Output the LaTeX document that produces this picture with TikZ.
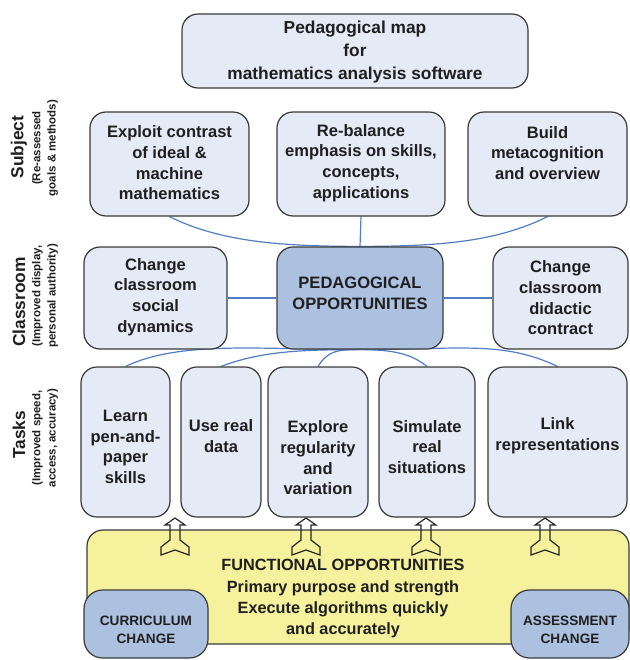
\documentclass[tikz,border=0pt]{standalone}
\usepackage{fontspec}
\setmainfont{Liberation Sans}
\usetikzlibrary{backgrounds}

\definecolor{boxfill}{RGB}{228,234,246}
\definecolor{hubfill}{RGB}{172,193,224}
\definecolor{funcfill}{RGB}{246,241,156}
\definecolor{spokeblue}{RGB}{80,125,196}
\definecolor{edgegray}{RGB}{58,58,58}

\tikzset{
  mapbox/.style={draw=edgegray, line width=0.9pt, fill=boxfill, rounded corners=12pt, inner sep=0pt},
  hubbox/.style={mapbox, fill=hubfill},
  maptext/.style={font=\bfseries\fontsize{12.4}{15.5}\selectfont, align=center, inner sep=0pt, text=black!88},
  tagtext/.style={font=\bfseries\fontsize{10.2}{13.2}\selectfont, align=center, inner sep=0pt, text=black!88},
  rowname/.style={font=\bfseries\fontsize{13}{15}\selectfont, rotate=90, inner sep=0pt, text=black!88},
  rownote/.style={font=\bfseries\fontsize{8.6}{11.5}\selectfont, rotate=90, align=center, inner sep=0pt, text=black!88},
  spoke/.style={draw=spokeblue, line width=0.9pt},
  % pics do not keep the flipped y axis, so y grows upwards here
  upfork/.pic={
    \draw[line width=0.9pt, draw=black!85] (0,0) -- (10,-7) -- (5,-7) -- (5,-22) -- (14,-29) -- (14,-37)
      -- (0,-32) -- (-14,-37) -- (-14,-29) -- (-5,-22) -- (-5,-7) -- (-10,-7) -- cycle;
  }
}

\begin{document}
\begin{tikzpicture}[x=0.75pt,y=0.75pt,yscale=-1,xscale=1]
\useasboundingbox (0,0) rectangle (630,660);

%Title box
\node[mapbox, minimum width=259.5pt, minimum height=55.5pt] (title) at (355,51) {};
\node[maptext, font=\bfseries\fontsize{13}{17.5}\selectfont] (title-t) at (355,52) {Pedagogical map\\for\\mathematics analysis software};

%Row labels
\node[rowname] (subj-l) at (19,147) {Subject};
\node[rownote] (subj-n) at (45,148) {(Re-assessed\\goals \& methods)};
\node[rowname] (class-l) at (19,302) {Classroom};
\node[rownote] (class-n) at (45,296) {(Improved display,\\personal authority)};
\node[rowname] (task-l) at (19,435) {Tasks};
\node[rownote] (task-n) at (45,438) {(Improved speed,\\access, accuracy)};

%Subject row
\node[mapbox, minimum width=119.25pt, minimum height=78pt] (sub1) at (169.5,164) {};
\node[mapbox, minimum width=126pt, minimum height=78pt] (sub2) at (361,164) {};
\node[mapbox, minimum width=119.25pt, minimum height=78pt] (sub3) at (547.5,164) {};
% Text Node
\node[maptext] (sub1-t) at (169.5,163) {Exploit contrast\\of ideal \&\\machine\\mathematics};
\node[maptext] (sub2-t) at (361,163) {Re-balance\\emphasis on skills,\\concepts,\\applications};
\node[maptext] (sub3-t) at (547.5,153) {Build\\metacognition\\and overview};

%Classroom row
\node[mapbox, minimum width=107.25pt, minimum height=76.5pt] (cls1) at (155.5,298) {};
\node[hubbox, minimum width=124.5pt, minimum height=76.5pt] (hub) at (360,298) {};
\node[mapbox, minimum width=101.25pt, minimum height=76.5pt] (cls2) at (560.5,298) {};
% Text Node
\node[maptext] (cls1-t) at (155.5,297) {Change\\classroom\\social\\dynamics};
\node[maptext] (hub-t) at (360,293) {PEDAGOGICAL\\OPPORTUNITIES};
\node[maptext] (cls2-t) at (560.5,298) {Change\\classroom\\didactic\\contract};

%Tasks row
\node[mapbox, minimum width=66.75pt, minimum height=112.5pt] (learn) at (125.5,442) {};
\node[mapbox, minimum width=60pt, minimum height=112.5pt] (usedata) at (221,442) {};
\node[mapbox, minimum width=75pt, minimum height=112.5pt] (explore) at (318,442) {};
\node[mapbox, minimum width=72pt, minimum height=112.5pt] (simulate) at (427,442) {};
\node[mapbox, minimum width=104.25pt, minimum height=112.5pt] (linkrep) at (557.5,442) {};
% Text Node
\node[maptext] (learn-t) at (125.5,447) {Learn\\pen-and-\\paper\\skills};
\node[maptext] (usedata-t) at (221,436) {Use real\\data};
\node[maptext] (explore-t) at (318,458) {Explore\\regularity\\and\\variation};
\node[maptext] (simulate-t) at (427,447) {Simulate\\real\\situations};
\node[maptext] (linkrep-t) at (557.5,436) {Link\\representations};

%Functional base
\node[mapbox, fill=funcfill, minimum width=406.5pt, minimum height=85.5pt] (func) at (358,587) {};
\node[hubbox, rounded corners=14pt, minimum width=93pt, minimum height=51pt] (curr) at (146,624) {};
\node[hubbox, rounded corners=14pt, minimum width=88.5pt, minimum height=51pt] (assess) at (570,624) {};
% Text Node
\node[maptext, font=\bfseries\fontsize{12.2}{16}\selectfont] (func-t) at (343,599) {FUNCTIONAL OPPORTUNITIES\\Primary purpose and strength\\Execute algorithms quickly\\and accurately};
\node[tagtext] (curr-t) at (146,630) {CURRICULUM\\CHANGE};
\node[tagtext] (assess-t) at (570,630) {ASSESSMENT\\CHANGE};

%Up arrows
\pic at (175,518) {upfork};
\pic at (306,518) {upfork};
\pic at (426,518) {upfork};
\pic at (545,518) {upfork};

%Spokes
\begin{scope}[on background layer]
\draw[spoke] (sub1.south) .. controls +(50,25) and +(-80,0) .. (hub.north);
\draw[spoke] (sub2.south) -- (hub.north);
\draw[spoke] (sub3.south) .. controls +(-50,25) and +(80,0) .. (hub.north);
\draw[spoke] (cls1.east) -- (hub.west);
\draw[spoke] (hub.east) -- (cls2.west);
\draw[spoke] (learn.north) .. controls +(55,-26) and +(-100,0) .. (hub.south);
\draw[spoke] (usedata.north) .. controls +(40,-15) and +(-60,0) .. (hub.south);
\draw[spoke] (explore.north) .. controls +(10,-15) and +(-25,0) .. (hub.south);
\draw[spoke] (simulate.north) .. controls +(-15,-12) and +(35,0) .. (hub.south);
\draw[spoke] (linkrep.north) .. controls +(-55,-26) and +(100,0) .. (hub.south);
\end{scope}

\end{tikzpicture}
\end{document}
